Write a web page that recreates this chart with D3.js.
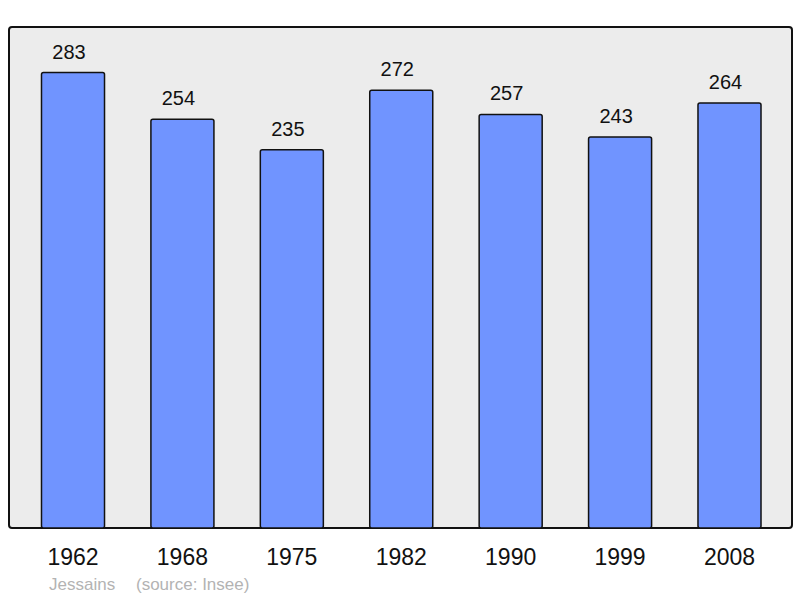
<!DOCTYPE html>
<html>
<head>
<meta charset="utf-8">
<script src="https://cdn.jsdelivr.net/npm/d3@7"></script>
<style>
  body { margin: 0; background: #fff; }
  text { font-family: "Liberation Sans", Arial, sans-serif; }
</style>
</head>
<body>
<svg id="chart" width="800" height="598"></svg>
<script>
// population by census year
var years = ["1962", "1968", "1975", "1982", "1990", "1999", "2008"];
var population = [283, 254, 235, 272, 257, 243, 264];
var placeName = "Jessains";
var sourceNote = "(source: Insee)";

var svg = d3.select("#chart");

var frame = { x0: 9, y0: 27, x1: 792, y1: 528 };

svg.append("rect")
	.attr("x", frame.x0)
	.attr("y", frame.y0)
	.attr("width", frame.x1 - frame.x0)
	.attr("height", frame.y1 - frame.y0)
	.attr("rx", 3).attr("ry", 3)
	.attr("fill", "#ececec")
	.attr("stroke", "#111")
	.attr("stroke-width", 2);

var x = d3.scaleBand()
	.domain(years)
	.range([18.3, 784.2])
	.paddingInner(0.424)
	.paddingOuter(0.212);

var y = d3.scaleLinear()
	.domain([0, d3.max(population) * 1.1])
	.range([frame.y1, frame.y0]);

var data = years.map(function(yr, i) { return { year: yr, value: population[i] }; });

svg.append("g")
	.selectAll("rect")
	.data(data)
	.enter().append("rect")
	.attr("x", function(d) { return x(d.year); })
	.attr("y", function(d) { return y(d.value); })
	.attr("width", x.bandwidth())
	.attr("height", function(d) { return y(0) - y(d.value); })
	.attr("rx", 2).attr("ry", 2)
	.attr("fill", "#7094ff")
	.attr("stroke", "#111")
	.attr("stroke-width", 1.5);

// value labels above bars (sit a little left of centre in the original)
svg.append("g")
	.selectAll("text")
	.data(data)
	.enter().append("text")
	.attr("x", function(d) { return x(d.year) + x.bandwidth() / 2 - 4; })
	.attr("y", function(d) { return y(d.value) - 14; })
	.attr("text-anchor", "middle")
	.attr("font-size", 20)
	.attr("fill", "#111")
	.text(function(d) { return d.value; });

// year labels
svg.append("g")
	.selectAll("text")
	.data(years)
	.enter().append("text")
	.attr("x", function(d) { return x(d) + x.bandwidth() / 2; })
	.attr("y", 565)
	.attr("text-anchor", "middle")
	.attr("font-size", 23)
	.attr("fill", "#111")
	.text(function(d) { return d; });

svg.append("text")
	.attr("x", 49)
	.attr("y", 590)
	.attr("font-size", 17)
	.attr("fill", "#b3b3b3")
	.text(placeName);

svg.append("text")
	.attr("x", 136)
	.attr("y", 590)
	.attr("font-size", 17)
	.attr("fill", "#b3b3b3")
	.text(sourceNote);
</script>
</body>
</html>
